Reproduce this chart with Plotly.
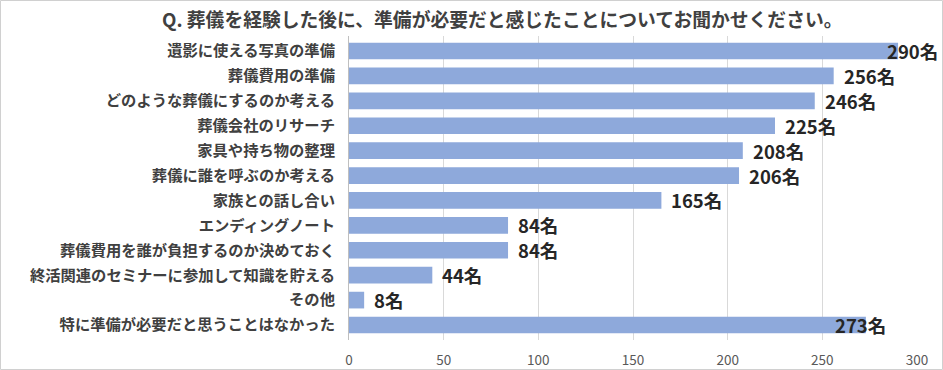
import plotly.graph_objects as go

categories = [
    "遺影に使える写真の準備",
    "葬儀費用の準備",
    "どのような葬儀にするのか考える",
    "葬儀会社のリサーチ",
    "家具や持ち物の整理",
    "葬儀に誰を呼ぶのか考える",
    "家族との話し合い",
    "エンディングノート",
    "葬儀費用を誰が負担するのか決めておく",
    "終活関連のセミナーに参加して知識を貯える",
    "その他",
    "特に準備が必要だと思うことはなかった",
]
values = [290, 256, 246, 225, 208, 206, 165, 84, 84, 44, 8, 273]
value_labels = [f"{v}名" for v in values]
tick_values = [0, 50, 100, 150, 200, 250, 300]
title_text = "Q. 葬儀を経験した後に、準備が必要だと感じたことについてお聞かせください。"

FONT = "Noto Sans CJK JP"
W, H = 943, 370
ML, MR, MT, MB = 349, 26, 36, 30
PW, PH = W - ML - MR, H - MT - MB

fig = go.Figure()
fig.add_trace(go.Bar(
    x=values, y=categories, orientation="h",
    marker=dict(color="#8EA9DB", line=dict(width=0)),
    hoverinfo="skip",
))

# label shifts (px) – labels that would overflow are pulled back over the bar
shifts = [-13 if v == 290 else (-33 if v == 273 else 8) for v in values]
for c, v, t, s in zip(categories, values, value_labels, shifts):
    fig.add_annotation(x=v, y=c, text=t, xref="x", yref="y", xanchor="left",
                       xshift=s, showarrow=False,
                       font=dict(family=FONT, size=18.5, color="#262626", weight="bold"))

fig.add_annotation(x=(502 - ML) / PW, y=1 + (MT - 18) / PH, xref="paper", yref="paper",
                   text=title_text, showarrow=False, xanchor="center", yanchor="middle",
                   font=dict(family=FONT, size=18.8, color="#404040", weight="bold"))

# outer frame
fig.add_shape(type="rect", xref="paper", yref="paper",
              x0=-(ML - 0.5) / PW, x1=1 + (MR - 0.5) / PW,
              y0=-(MB - 0.5) / PH, y1=1 + (MT - 0.5) / PH,
              line=dict(color="#D0D0D0", width=1), fillcolor="rgba(0,0,0,0)")

fig.update_layout(
    width=W, height=H, autosize=False,
    margin=dict(l=ML, r=MR, t=MT, b=MB, pad=0, autoexpand=False),
    paper_bgcolor="white", plot_bgcolor="white",
    bargap=0.33, showlegend=False,
    font=dict(family=FONT),
)
fig.update_xaxes(range=[0, 300], tickvals=tick_values, showgrid=True,
                 gridcolor="#D9D9D9", gridwidth=1, zeroline=False, automargin=False,
                 showline=False, ticks="", ticklabelstandoff=10,
                 tickfont=dict(family=FONT, size=13.5, color="#595959"))
fig.update_yaxes(autorange="reversed", showgrid=False, zeroline=False, automargin=False,
                 showline=True, linecolor="#BFBFBF", linewidth=1, ticks="",
                 ticklabelstandoff=10,
                 tickfont=dict(family=FONT, size=15.3, color="#404040", weight="bold"))

fig.write_html("out.html", config={"displayModeBar": False},
               post_script="document.body.style.margin='0';document.body.style.overflow='hidden';")
